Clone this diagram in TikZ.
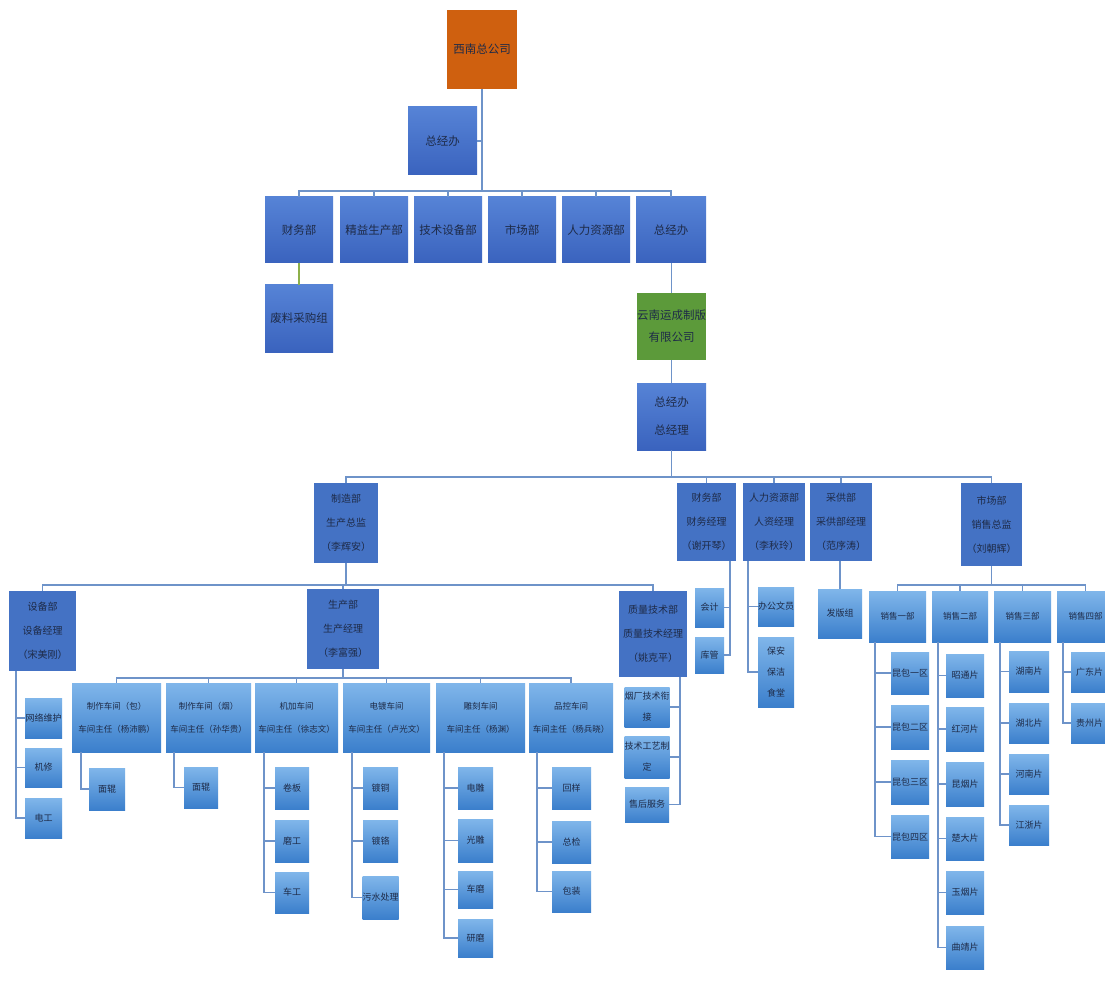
\documentclass[tikz,border=0pt]{standalone}
\usepackage{fontspec}
\setmainfont{Noto Sans CJK SC}
\definecolor{orgO}{HTML}{CF600F}
\definecolor{orgG}{HTML}{5C9A3A}
\definecolor{topT}{HTML}{5683D6}
\definecolor{topB}{HTML}{3A63BE}
\definecolor{mgrC}{HTML}{4472C4}
\definecolor{ltT}{HTML}{80B6EA}
\definecolor{ltB}{HTML}{3B7FCC}
\definecolor{lnC}{HTML}{6E93C9}
\definecolor{lnG}{HTML}{8DB04A}
\definecolor{txC}{HTML}{1E2B48}
\tikzset{
  base/.style={inner sep=0pt, outer sep=0pt, align=center, text=txC},
  orangebox/.style={base, fill=orgO, font=\fontsize{11.5}{22}\selectfont},
  greenbox/.style={base, fill=orgG, font=\fontsize{11.5}{22}\selectfont},
  topbox/.style={base, top color=topT, bottom color=topB, font=\fontsize{11.5}{22}\selectfont},
  mgrbox/.style={base, fill=mgrC, font=\fontsize{10}{24}\selectfont},
  wsbox/.style={base, top color=ltT, bottom color=ltB, font=\fontsize{8.5}{23}\selectfont},
  lfbox/.style={base, top color=ltT, bottom color=ltB, font=\fontsize{9}{21}\selectfont},
  conn/.style={draw=lnC, line width=1.3pt},
}
\newcommand\bx[7]{\node[#6, minimum width={#4pt-#2pt}, minimum height={#5pt-#3pt}] (#1) at ({(#2+#4)/2},{(#3+#5)/2}) {#7};}
\begin{document}
\begin{tikzpicture}[x=1pt,y=-1pt]
\useasboundingbox (0,0) rectangle (1105,981);
\fill[white] (0,0) rectangle (1105,981);
% bus levels and spines
\coordinate (busA) at (0,191);
\coordinate (busB) at (0,477);
\coordinate (busC) at (0,585);
\coordinate (busD) at (0,678);
\coordinate (spSB) at (16,0);
\coordinate (spW1) at (81,0);
\coordinate (spW2) at (174,0);
\coordinate (spW3) at (264,0);
\coordinate (spW4) at (352,0);
\coordinate (spW5) at (444,0);
\coordinate (spW6) at (537,0);
\coordinate (spZL) at (680,0);
\coordinate (spCW) at (730,0);
\coordinate (spRL) at (748,0);
\coordinate (spS1) at (875,0);
\coordinate (spS2) at (938,0);
\coordinate (spS3) at (1000,0);
\coordinate (spS4) at (1063,0);

% top level
\bx{xn}{447}{10}{517}{89}{orangebox}{西南总公司}
\bx{zjbA}{408}{107}{477}{175}{topbox}{总经办}
\bx{cw}{265}{197}{333}{263}{topbox}{财务部}
\bx{jy}{340}{197}{408}{263}{topbox}{精益生产部}
\bx{js}{414}{197}{482}{263}{topbox}{技术设备部}
\bx{sc}{488}{197}{556}{263}{topbox}{市场部}
\bx{rl}{562}{197}{630}{263}{topbox}{人力资源部}
\bx{zjbB}{636}{197}{706}{263}{topbox}{总经办}
\bx{fl}{265}{285}{333}{352}{topbox}{废料采购组}
\bx{yn}{637}{293}{706}{360}{greenbox}{云南运成制版\\有限公司}
\bx{zjl}{637}{383}{706}{450}{topbox,font=\fontsize{11.5}{28}\selectfont}{总经办\\总经理}

% row 3
\bx{zz}{314}{483}{378}{563}{mgrbox}{制造部\\生产总监\\（李辉安）}
\bx{cwb}{677}{483}{736}{561}{mgrbox}{财务部\\财务经理\\（谢开琴）}
\bx{rlb}{743}{483}{805}{561}{mgrbox}{人力资源部\\人资经理\\（李秋玲）}
\bx{cg}{810}{483}{872}{561}{mgrbox}{采供部\\采供部经理\\（范序涛）}
\bx{scb}{961}{483}{1022}{566}{mgrbox}{市场部\\销售总监\\（刘朝辉）}

% row 4
\bx{sb}{9}{591}{76}{671}{mgrbox}{设备部\\设备经理\\（宋美刚）}
\bx{scp}{307}{589}{379}{669}{mgrbox}{生产部\\生产经理\\（李富强）}
\bx{zl}{619}{591}{687}{677}{mgrbox}{质量技术部\\质量技术经理\\（姚克平）}

% workshops
\bx{wA}{72}{683}{161}{752}{wsbox}{制作车间（包）\\车间主任（杨沛鹏）}
\bx{wB}{166}{683}{251}{752}{wsbox}{制作车间（烟）\\车间主任（孙华贵）}
\bx{wC}{255}{683}{338}{752}{wsbox}{机加车间\\车间主任（徐志文）}
\bx{wD}{343}{683}{430}{752}{wsbox}{电镀车间\\车间主任（卢光文）}
\bx{wE}{436}{683}{525}{752}{wsbox}{雕刻车间\\车间主任（杨渊）}
\bx{wF}{529}{683}{613}{752}{wsbox}{品控车间\\车间主任（杨兵晓）}

% workshop leaves
\bx{wAa}{89}{768}{125}{810}{lfbox}{面辊}
\bx{wBa}{184}{767}{218}{808}{lfbox}{面辊}
\bx{wCa}{275}{767}{309}{809}{lfbox}{卷板}
\bx{wCb}{275}{820}{309}{862}{lfbox}{磨工}
\bx{wCc}{275}{872}{309}{913}{lfbox}{车工}
\bx{wDa}{363}{767}{398}{809}{lfbox}{镀铜}
\bx{wDb}{363}{820}{398}{862}{lfbox}{镀铬}
\bx{wDc}{363}{876}{398}{919}{lfbox}{污水处理}
\bx{wEa}{458}{767}{493}{809}{lfbox}{电雕}
\bx{wEb}{458}{819}{493}{862}{lfbox}{光雕}
\bx{wEc}{458}{871}{493}{908}{lfbox}{车磨}
\bx{wEd}{458}{919}{493}{957}{lfbox}{研磨}
\bx{wFa}{552}{767}{591}{809}{lfbox}{回样}
\bx{wFb}{552}{821}{591}{863}{lfbox}{总检}
\bx{wFc}{552}{871}{591}{912}{lfbox}{包装}

% 设备部 leaves
\bx{sbA}{25}{698}{62}{738}{lfbox}{网络维护}
\bx{sbB}{25}{748}{62}{787}{lfbox}{机修}
\bx{sbC}{25}{798}{62}{838}{lfbox}{电工}

% 质量技术部 leaves
\bx{zlA}{625}{687}{669}{727}{lfbox}{烟厂技术衔\\接}
\bx{zlB}{625}{736}{669}{778}{lfbox}{技术工艺制\\定}
\bx{zlC}{625}{787}{669}{822}{lfbox}{售后服务}

% 财务部 / 人力 / 采供 leaves
\bx{cwA}{695}{588}{724}{627}{lfbox}{会计}
\bx{cwB}{695}{637}{724}{673}{lfbox}{库管}
\bx{rlA}{758}{587}{794}{626}{lfbox}{办公文员}
\bx{rlB}{758}{637}{794}{707}{lfbox}{保安\\保洁\\食堂}
\bx{fb}{818}{589}{862}{638}{lfbox}{发版组}

% sales
\bx{sA}{869}{591}{926}{642}{wsbox}{销售一部}
\bx{sB}{932}{591}{988}{642}{wsbox}{销售二部}
\bx{sC}{994}{591}{1051}{642}{wsbox}{销售三部}
\bx{sD}{1057}{591}{1114}{642}{wsbox}{销售四部}
\bx{sAa}{891}{652}{929}{694}{lfbox}{昆包一区}
\bx{sAb}{891}{705}{929}{749}{lfbox}{昆包二区}
\bx{sAc}{891}{760}{929}{804}{lfbox}{昆包三区}
\bx{sAd}{891}{815}{929}{858}{lfbox}{昆包四区}
\bx{sBa}{946}{654}{984}{697}{lfbox}{昭通片}
\bx{sBb}{946}{707}{984}{751}{lfbox}{红河片}
\bx{sBc}{946}{762}{984}{806}{lfbox}{昆烟片}
\bx{sBd}{946}{817}{984}{860}{lfbox}{楚大片}
\bx{sBe}{946}{871}{984}{914}{lfbox}{玉烟片}
\bx{sBf}{946}{926}{984}{969}{lfbox}{曲靖片}
\bx{sCa}{1009}{651}{1049}{692}{lfbox}{湖南片}
\bx{sCb}{1009}{703}{1049}{743}{lfbox}{湖北片}
\bx{sCc}{1009}{754}{1049}{794}{lfbox}{河南片}
\bx{sCd}{1009}{805}{1049}{845}{lfbox}{江浙片}
\bx{sDa}{1071}{652}{1108}{692}{lfbox}{广东片}
\bx{sDb}{1071}{703}{1108}{743}{lfbox}{贵州片}

% ---------- connectors ----------
\draw[conn] (xn.south) -- (xn.south |- busA);
\draw[conn] (zjbA.east) -- (zjbA.east -| xn.south);
\foreach \c in {cw,jy,js,sc,rl,zjbB}{\draw[conn] (xn.south |- busA) -| (\c.north);}
\draw[draw=lnG, line width=1.3pt] (cw.south) -- (fl.north);
\draw[conn] (yn.north |- zjbB.south) -- (yn.north);
\draw[conn] (yn.south) -- (zjl.north);
\draw[conn] (zjl.south) -- (zjl.south |- busB);
\foreach \c in {zz,cwb,rlb,cg,scb}{\draw[conn] (zjl.south |- busB) -| (\c.north);}
\draw[conn] (zz.south) -- (zz.south |- busC);
\foreach \c in {sb,scp,zl}{\draw[conn] (zz.south |- busC) -| (\c.north);}
\draw[conn] (scp.south) -- (scp.south |- busD);
\foreach \c in {wA,wB,wC,wD,wE,wF}{\draw[conn] (scp.south |- busD) -| (\c.north);}
\draw[conn] (wA.south -| spW1) |- (wAa.west);
\draw[conn] (wB.south -| spW2) |- (wBa.west);
\foreach \c in {wCa,wCb,wCc}{\draw[conn] (wC.south -| spW3) |- (\c.west);}
\foreach \c in {wDa,wDb,wDc}{\draw[conn] (wD.south -| spW4) |- (\c.west);}
\foreach \c in {wEa,wEb,wEc,wEd}{\draw[conn] (wE.south -| spW5) |- (\c.west);}
\foreach \c in {wFa,wFb,wFc}{\draw[conn] (wF.south -| spW6) |- (\c.west);}
\foreach \c in {sbA,sbB,sbC}{\draw[conn] (sb.south -| spSB) |- (\c.west);}
\foreach \c in {zlA,zlB,zlC}{\draw[conn] (zl.south -| spZL) |- (\c.east);}
\foreach \c in {cwA,cwB}{\draw[conn] (cwb.south -| spCW) |- (\c.east);}
\foreach \c in {rlA,rlB}{\draw[conn] (rlb.south -| spRL) |- (\c.west);}
\draw[conn] (cg.south -| fb.north) -- (fb.north);
\draw[conn] (scb.south) -- (scb.south |- busC);
\foreach \c in {sA,sB,sC,sD}{\draw[conn] (scb.south |- busC) -| (\c.north);}
\foreach \c in {sAa,sAb,sAc,sAd}{\draw[conn] (sA.south -| spS1) |- (\c.west);}
\foreach \c in {sBa,sBb,sBc,sBd,sBe,sBf}{\draw[conn] (sB.south -| spS2) |- (\c.west);}
\foreach \c in {sCa,sCb,sCc,sCd}{\draw[conn] (sC.south -| spS3) |- (\c.west);}
\foreach \c in {sDa,sDb}{\draw[conn] (sD.south -| spS4) |- (\c.west);}
\end{tikzpicture}
\end{document}
